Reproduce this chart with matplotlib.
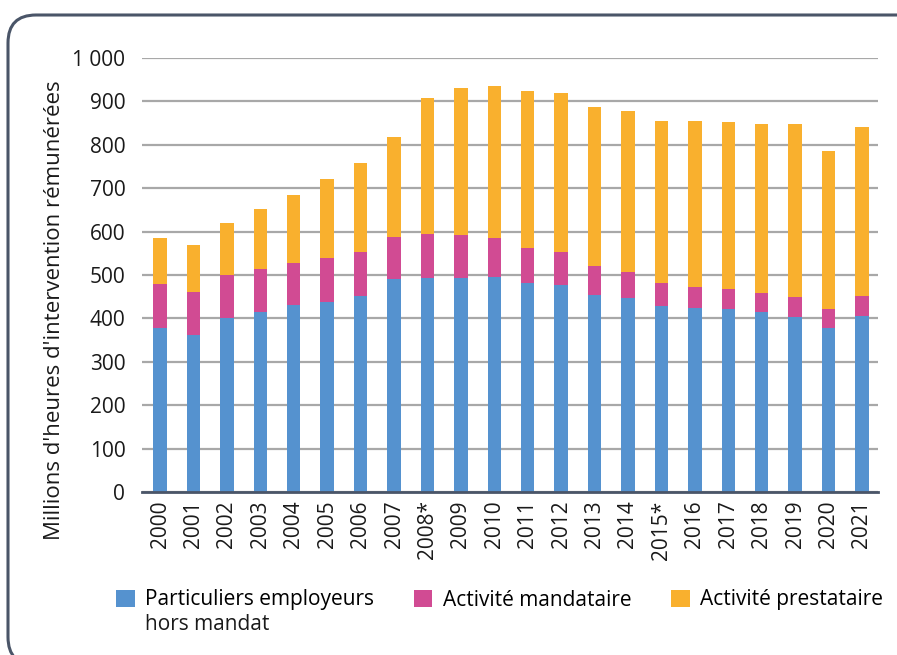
import matplotlib.pyplot as plt
import numpy as np
from matplotlib.patches import FancyBboxPatch
from matplotlib.transforms import IdentityTransform

years = ["2000", "2001", "2002", "2003", "2004", "2005", "2006", "2007", "2008*", "2009", "2010",
         "2011", "2012", "2013", "2014", "2015*", "2016", "2017", "2018", "2019", "2020", "2021"]
# cumulated tops
hors_mandat = [379, 362, 401, 415, 432, 437, 451, 491, 493, 494, 496,
               481, 477, 454, 448, 428, 424, 421, 415, 404, 378, 405]
top_mandataire = [480, 461, 500, 513, 528, 539, 554, 588, 595, 592, 585,
                  562, 552, 520, 507, 482, 473, 467, 459, 450, 421, 452]
top_total = [585, 568, 619, 653, 685, 721, 758, 818, 908, 931, 936,
             925, 919, 887, 878, 855, 855, 853, 849, 849, 785, 841]
yticks = [0, 100, 200, 300, 400, 500, 600, 700, 800, 900, 1000]
ytick_labels = ["0", "100", "200", "300", "400", "500", "600", "700", "800", "900", "1 000"]

mandataire = np.array(top_mandataire) - np.array(hors_mandat)
prestataire = np.array(top_total) - np.array(top_mandataire)

plt.rcParams["font.family"] = ["Open Sans", "DejaVu Sans"]
c_blue = "#5592cf"
c_pink = "#d14b93"
c_orange = "#f9b02e"
c_text = "#1a1a1a"

fig = plt.figure(figsize=(8.97, 6.55), dpi=100)
ax = fig.add_axes([142/897, 1-492/655, (878-142)/897, (492-58)/655])

x = np.arange(len(years))
w = 0.4
ax.bar(x, hors_mandat, w, color=c_blue, label="Particuliers employeurs", zorder=3)
ax.bar(x, mandataire, w, bottom=hors_mandat, color=c_pink, label="Activité mandataire", zorder=3)
ax.bar(x, prestataire, w, bottom=top_mandataire, color=c_orange, label="Activité prestataire", zorder=3)

ax.set_xlim(-0.54, 21.48)
ax.set_ylim(0, 1000)
ax.set_yticks(yticks)
ax.set_yticklabels(ytick_labels)
ax.set_xticks(x)
ax.set_xticklabels(years, rotation=90)
ax.tick_params(axis="both", length=0, labelsize=15, colors=c_text)
ax.tick_params(axis="y", pad=12)
ax.tick_params(axis="x", pad=6)
ax.yaxis.grid(True, color="#a8a8a8", linewidth=1.6, zorder=0)
for s in ["top", "right", "left"]:
    ax.spines[s].set_visible(False)
ax.spines["bottom"].set_color("#4a5568")
ax.spines["bottom"].set_linewidth(2)
ax.spines["bottom"].set_zorder(4)
ax.set_ylabel("Millions d'heures d'intervention rémunérées", fontsize=16, color=c_text)
ax.yaxis.set_label_coords(-0.104, 0.42)

fig.legend(loc="center left", bbox_to_anchor=(116/897, 1-600/655), ncol=3, frameon=False,
           fontsize=15, handlelength=0.9, handleheight=0.9, columnspacing=1.9,
           handletextpad=0.5, borderaxespad=0, borderpad=0)
fig.text(145/897, 1-625/655, "hors mandat", fontsize=15, color=c_text, va="center", ha="left")

frame = FancyBboxPatch((8, -10), 920, 640 + 10, boxstyle="round,pad=0,rounding_size=28",
                       transform=IdentityTransform(), facecolor="none", edgecolor="#4a5568", linewidth=2.2)
fig.patches.append(frame)

fig.savefig("out.png", dpi=100)
